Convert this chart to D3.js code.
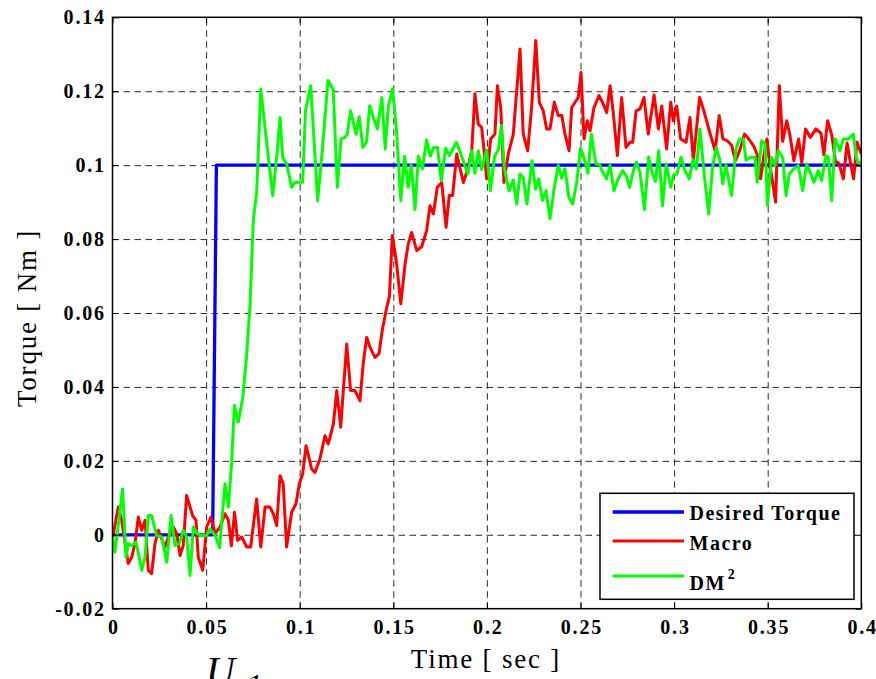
<!DOCTYPE html>
<html><head><meta charset="utf-8">
<script src="https://cdn.jsdelivr.net/npm/d3@7"></script>
<style>body{margin:0;background:#fff}svg{display:block}</style>
</head><body><svg id="c" width="876" height="679"></svg>
<script>
// ---- data ----
const xTicks = [0,0.05,0.1,0.15,0.2,0.25,0.3,0.35,0.4];
const xTickLabels = ["0","0.05","0.1","0.15","0.2","0.25","0.3","0.35","0.4"];
const yTicks = [-0.02,0,0.02,0.04,0.06,0.08,0.1,0.12,0.14];
const yTickLabels = ["-0.02","0","0.02","0.04","0.06","0.08","0.1","0.12","0.14"];
const seriesNames = ["Desired Torque","Macro","DM"];

const desiredT = [0,0.0535,0.0555,0.4];
const desiredV = [0,0,0.1,0.1];

const macroT = [0,0.0031,0.0049,0.0084,0.0103,0.012,0.0138,0.0156,0.0174,0.0191,
0.0209,0.0227,0.0245,0.028,0.0298,0.0325,0.0343,0.0361,0.0378,0.0396,
0.0428,0.0446,0.0458,0.0482,0.0503,0.0526,0.0548,0.0574,0.0601,0.0619,
0.0635,0.0652,0.0668,0.069,0.0717,0.0738,0.077,0.0792,0.0815,0.0841,
0.0859,0.0877,0.0895,0.0912,0.093,0.0957,0.098,0.0998,0.1016,0.1034,
0.1064,0.1082,0.1108,0.1135,0.1153,0.118,0.1198,0.1219,0.1251,0.1272,
0.1295,0.1322,0.134,0.1358,0.1376,0.1402,0.1424,0.144,0.1465,0.1479,
0.1495,0.1518,0.154,0.1563,0.158,0.1598,0.1625,0.1652,0.1678,0.1696,
0.1714,0.1735,0.1759,0.1782,0.1799,0.1817,0.1839,0.1874,0.1895,0.1919,
0.1936,0.1954,0.1972,0.1985,0.1999,0.202,0.2043,0.2056,0.2074,0.2091,
0.2114,0.2141,0.2177,0.2194,0.2218,0.2239,0.2261,0.228,0.2301,0.2319,
0.2337,0.236,0.2381,0.24,0.2417,0.2439,0.2453,0.2488,0.2503,0.2519,
0.2536,0.2551,0.2572,0.2599,0.2622,0.264,0.2658,0.2675,0.2697,0.272,
0.2743,0.2764,0.2779,0.2797,0.2818,0.2839,0.2862,0.2893,0.2916,0.2934,
0.296,0.2982,0.2996,0.3014,0.3035,0.3064,0.3085,0.3103,0.3136,0.3156,
0.3183,0.3219,0.3241,0.3261,0.3284,0.3308,0.3328,0.3352,0.3376,0.34,
0.3427,0.3443,0.3462,0.3481,0.3496,0.3512,0.3542,0.3562,0.358,0.3602,
0.3619,0.364,0.3665,0.3682,0.3702,0.3728,0.3758,0.3785,0.38,0.382,
0.3842,0.3862,0.3881,0.3904,0.3924,0.394,0.3959,0.3977,0.4];
const macroV = [-0.001,0.0075,0.0039,-0.0078,-0.006,-0.0024,0.0048,0.0012,0.0039,-0.0096,
-0.0105,-0.0024,0.0012,-0.0033,-0.0006,0.0021,0.0003,-0.0056,-0.0029,0.0106,
0.0052,0.0039,-0.006,-0.0096,0.0021,0.0048,0.0003,0.0021,0.0057,0.0039,
-0.003,0.0061,-0.0015,-0.0006,-0.0033,-0.0033,0.0097,-0.0033,0.0075,0.0075,
0.0057,0.0025,0.016,0.0138,-0.0033,0.0061,0.0084,0.0138,0.0165,0.0241,
0.0178,0.0169,0.0205,0.0268,0.0246,0.030,0.039,0.0291,0.0516,0.039,
0.039,0.0363,0.0467,0.0534,0.0507,0.048,0.049,0.055,0.0616,0.0643,
0.081,0.0733,0.0625,0.0733,0.0787,0.0818,0.0769,0.078,0.0823,0.089,
0.0868,0.094,0.0953,0.0832,0.0918,0.0918,0.103,0.0953,0.0985,0.1039,
0.1193,0.1111,0.1102,0.1039,0.0963,0.1071,0.1084,0.1215,0.1156,0.0953,
0.103,0.1084,0.1314,0.1084,0.1039,0.1156,0.1337,0.117,0.1147,0.1098,
0.1098,0.117,0.1134,0.1134,0.1084,0.1039,0.1156,0.1183,0.1251,0.1071,
0.112,0.1093,0.1156,0.1188,0.1165,0.1142,0.1215,0.1142,0.1026,0.1183,
0.1048,0.1062,0.1062,0.1147,0.1152,0.1183,0.1084,0.119,0.1098,0.116,
0.1044,0.117,0.112,0.116,0.1071,0.1062,0.1129,0.1012,0.1183,0.1152,
0.1102,0.1039,0.1134,0.1071,0.1066,0.1053,0.1012,0.1042,0.1084,0.107,
0.105,0.103,0.0963,0.103,0.1071,0.1,0.09,0.1215,0.1064,0.112,
0.108,0.1012,0.1071,0.1005,0.1098,0.1075,0.1098,0.1086,0.1028,0.112,
0.1082,0.101,0.1005,0.0963,0.106,0.1012,0.0963,0.1062,0.103];

const dmT = [0,0.0013,0.0054,0.0072,0.0084,0.0103,0.0126,0.0156,0.0174,0.0191,
0.0209,0.0236,0.0263,0.029,0.0313,0.0334,0.0357,0.0378,0.0396,0.0414,
0.0432,0.0453,0.0476,0.0503,0.0521,0.0548,0.0572,0.0601,0.0619,0.0637,
0.0651,0.0672,0.0696,0.0717,0.0735,0.0752,0.077,0.0792,0.0824,0.0856,
0.0877,0.0895,0.0909,0.0931,0.0957,0.0975,0.1016,0.1031,0.1059,0.1096,
0.1123,0.1151,0.1179,0.1201,0.1221,0.1242,0.1254,0.1272,0.1301,0.1318,
0.1337,0.1357,0.1374,0.1393,0.1415,0.1439,0.1457,0.1474,0.1496,0.1517,
0.154,0.156,0.1579,0.1596,0.1616,0.1634,0.1656,0.1678,0.1698,0.1715,
0.1736,0.1756,0.178,0.18,0.1837,0.1865,0.1898,0.1919,0.1936,0.1954,
0.1972,0.1998,0.2019,0.2041,0.2061,0.2077,0.2094,0.2118,0.2141,0.2159,
0.2177,0.2194,0.2214,0.2241,0.226,0.2277,0.2297,0.2316,0.2337,0.2358,
0.2381,0.24,0.2417,0.2438,0.2458,0.248,0.25,0.2519,0.254,0.2558,
0.2582,0.2602,0.2615,0.2639,0.2658,0.2679,0.27,0.2725,0.2745,0.2762,
0.2784,0.2799,0.2818,0.2842,0.2864,0.2885,0.2901,0.2918,0.2938,0.2958,
0.2982,0.2998,0.3015,0.3037,0.3058,0.3081,0.3101,0.3119,0.3138,0.3162,
0.3185,0.3205,0.3225,0.3244,0.326,0.3277,0.3307,0.3331,0.3349,0.337,
0.3384,0.3405,0.3432,0.3444,0.3468,0.3486,0.3499,0.3521,0.3539,0.3557,
0.358,0.3598,0.3615,0.364,0.3663,0.3687,0.3708,0.373,0.3747,0.377,
0.3788,0.3811,0.3824,0.3842,0.386,0.3886,0.3904,0.3931,0.3957,0.3975,0.4];
const dmV = [-0.0006,-0.0047,0.0124,-0.0061,-0.0024,-0.0029,-0.002,-0.0096,-0.006,0.0052,
0.0052,-0.0002,-0.0006,-0.0074,0.0052,-0.0029,-0.0024,0.0012,-0.0006,-0.011,
0.0021,0.0003,-0.0002,-0.0002,0.0016,-0.0002,-0.0035,0.0138,0.0075,0.02,
0.035,0.0305,0.0372,0.0489,0.0625,0.085,0.0926,0.1206,0.106,0.0918,
0.1021,0.1129,0.1021,0.1003,0.094,0.0954,0.0954,0.1147,0.1215,0.0904,
0.1053,0.1229,0.1205,0.094,0.1071,0.1075,0.1084,0.1147,0.1084,0.1131,
0.1048,0.1062,0.1161,0.1129,0.1098,0.1183,0.1044,0.116,0.1206,0.1095,
0.0904,0.1024,0.094,0.1001,0.088,0.1024,0.099,0.1068,0.1024,0.1048,
0.1048,0.0958,0.1046,0.1026,0.1062,0.1024,0.0976,0.1039,0.0978,0.1039,
0.0988,0.1041,0.0931,0.1024,0.1041,0.1107,0.099,0.093,0.096,0.0895,
0.0976,0.0965,0.0895,0.1012,0.0935,0.0963,0.0905,0.0931,0.0855,0.0933,
0.0999,0.0965,0.099,0.0913,0.0895,0.0955,0.1046,0.102,0.0978,0.1084,
0.1003,0.1002,0.0985,0.0963,0.1,0.0931,0.0962,0.0985,0.097,0.094,
0.0988,0.1008,0.098,0.088,0.1022,0.0976,0.0956,0.1039,0.089,0.1003,
0.094,0.0974,0.0976,0.1021,0.0985,0.0963,0.1015,0.099,0.1098,0.097,
0.0868,0.0994,0.1048,0.1015,0.095,0.1001,0.0918,0.1045,0.1071,0.1071,
0.1013,0.1021,0.1022,0.0954,0.1066,0.1057,0.0891,0.1021,0.0999,0.1039,
0.1021,0.0918,0.0976,0.099,0.0999,0.0931,0.1003,0.0976,0.0954,0.0985,
0.0958,0.1026,0.1022,0.0904,0.1071,0.1039,0.1071,0.1071,0.1084,0.1017,0.0999];

// ---- layout ----
const W = 876, H = 679;
const m = {l:112.5, t:17.3, r:14.7, b:70.3};
const svg = d3.select("#c");
svg.append("rect").attr("width",W).attr("height",H).attr("fill","#fff");
const x = d3.scaleLinear().domain([0,0.4]).range([m.l, W-m.r]);
const y = d3.scaleLinear().domain([-0.02,0.14]).range([H-m.b, m.t]);
const pw = x(0.4)-x(0), ph = y(-0.02)-y(0.14);
const serif = "'Liberation Serif','Times New Roman',Times,serif";
const LS = 1.8;

// grid
const gx = svg.append("g").attr("transform",`translate(0,${y(-0.02)})`)
  .call(d3.axisBottom(x).tickValues(xTicks.slice(1,-1)).tickSize(-ph).tickFormat(""));
const gy = svg.append("g").attr("transform",`translate(${x(0)},0)`)
  .call(d3.axisLeft(y).tickValues(yTicks.slice(1,-1)).tickSize(-pw).tickFormat(""));
[gx,gy].forEach(g=>{
  g.select(".domain").remove();
  g.selectAll("line").attr("stroke","#2a2a2a").attr("stroke-width",1).attr("stroke-dasharray","6.5,4.5");
});

// lines
svg.append("clipPath").attr("id","pc").append("rect")
  .attr("x",x(0)).attr("y",y(0.14)).attr("width",pw).attr("height",ph);
const line = d3.line().x(d=>x(d[0])).y(d=>y(d[1]));
const plot = svg.append("g").attr("clip-path","url(#pc)");
const series = [
  {t:desiredT, v:desiredV, c:"#0000ff", w:3.3},
  {t:macroT, v:macroV, c:"#ff0000", w:3},
  {t:dmT, v:dmV, c:"#00ff00", w:3}
];
series.forEach(s=>{
  plot.append("path").datum(d3.zip(s.t,s.v)).attr("d",line)
    .attr("fill","none").attr("stroke",s.c).attr("stroke-width",s.w)
    .attr("stroke-linejoin","round").attr("stroke-linecap","butt");
});

// axes with inward ticks and labels
const fmtX = (d,i)=>xTickLabels[i], fmtY = (d,i)=>yTickLabels[i];
const ax = svg.append("g").attr("transform",`translate(0,${y(-0.02)})`)
  .call(d3.axisBottom(x).tickValues(xTicks).tickFormat(fmtX).tickSize(-6).tickPadding(11.5));
const ay = svg.append("g").attr("transform",`translate(${x(0)},0)`)
  .call(d3.axisLeft(y).tickValues(yTicks).tickFormat(fmtY).tickSize(-6).tickPadding(8.5-LS));
const at = svg.append("g").attr("transform",`translate(0,${y(0.14)})`)
  .call(d3.axisTop(x).tickValues(xTicks).tickFormat("").tickSize(-6));
const ar = svg.append("g").attr("transform",`translate(${x(0.4)},0)`)
  .call(d3.axisRight(y).tickValues(yTicks).tickFormat("").tickSize(-6));
[ax,ay,at,ar].forEach(g=>{
  g.select(".domain").remove();
  g.selectAll("line").attr("stroke","#000").attr("stroke-width",1);
  g.selectAll("text").attr("font-family",serif).attr("font-weight","bold")
    .attr("font-size",20).attr("fill","#000").style("letter-spacing",LS+"px");
});
ax.selectAll("text").attr("dx",LS/2);

// frame
svg.append("rect").attr("x",x(0)).attr("y",y(0.14)).attr("width",pw).attr("height",ph)
  .attr("fill","none").attr("stroke","#000").attr("stroke-width",1.5);

// axis titles
svg.append("text").attr("x",486).attr("y",668).attr("text-anchor","middle")
  .attr("font-family",serif).attr("font-size",27).style("letter-spacing","1.8px")
  .text("Time [ sec ]");
svg.append("text").attr("transform","translate(36,318) rotate(-90)").attr("text-anchor","middle")
  .attr("font-family",serif).attr("font-size",27).style("letter-spacing","1.8px")
  .text("Torque [ Nm ]");

// stray cropped text from source page
svg.append("text").attr("x",206).attr("y",684).attr("font-family",serif)
  .attr("font-style","italic").attr("font-size",40).text("U");
svg.append("text").attr("x",247).attr("y",694).attr("font-family",serif)
  .attr("font-style","italic").attr("font-size",30).text("1");

// legend
const lg = svg.append("g");
lg.append("rect").attr("x",600).attr("y",493.3).attr("width",254).attr("height",106)
  .attr("fill","#fff").attr("stroke","#000").attr("stroke-width",1.5);
const rows = [
  {ly:512, ty:519.5},
  {ly:541, ty:549.5},
  {ly:576, ty:590}
];
rows.forEach((r,i)=>{
  lg.append("path").attr("d",d3.line()([[612.7,r.ly],[684,r.ly]]))
    .attr("stroke",series[i].c).attr("stroke-width",series[i].w).attr("fill","none");
  const t = lg.append("text").attr("x",689.5).attr("y",r.ty).attr("font-family",serif)
    .attr("font-weight","bold").attr("font-size",20).style("letter-spacing","1.5px");
  t.append("tspan").text(seriesNames[i]);
  if(i===2){
    t.append("tspan").attr("dy",-11).attr("dx",2).attr("font-size",14).text("2");
  }
});
</script></body></html>
